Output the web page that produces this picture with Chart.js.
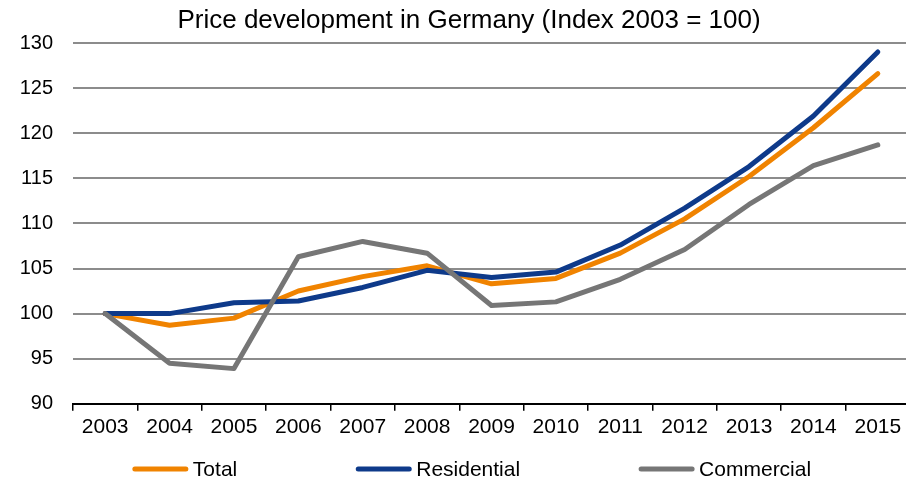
<html><head><meta charset="utf-8">
<script src="https://cdn.jsdelivr.net/npm/chart.js@4.4.0/dist/chart.umd.min.js"></script>
<style>
 body { margin:0; background:#fff; }
 #wrap { width:906px; height:481px; overflow:hidden; position:relative; }
 #box { width:912px; height:481px; position:absolute; left:0; top:0; }
</style>
</head>
<body>
<div id="wrap"><div id="box"><canvas id="myChart"></canvas></div></div>
<script>
var years = ['2003','2004','2005','2006','2007','2008','2009','2010','2011','2012','2013','2014','2015'];
var total = [100, 98.7, 99.5, 102.5, 104.1, 105.3, 103.3, 103.9, 106.7, 110.5, 115.2, 120.6, 126.6];
var residential = [100, 100, 101.2, 101.4, 102.9, 104.8, 104.0, 104.6, 107.6, 111.7, 116.3, 121.9, 129.0];
var commercial = [100, 94.5, 93.9, 106.3, 108.0, 106.7, 100.9, 101.3, 103.8, 107.1, 112.1, 116.4, 118.7];
var yMin = 90, yMax = 130, yStep = 5;
var title = 'Price development in Germany (Index 2003 = 100)';

var font = 'Liberation Sans, Arial, sans-serif';

function line(label, data, color, order) {
  return {
    label: label, data: data, borderColor: color, backgroundColor: color,
    borderWidth: 5, borderCapStyle: 'round', borderJoinStyle: 'round',
    pointRadius: 0, tension: 0, order: order
  };
}

// Excel-style title and legend: title centred a bit left of the plot,
// legend items with wide gaps and the line sample right next to the text
var excelText = {
  id: 'excelText',
  afterDraw: function (chart) {
    var c = chart.ctx, sets = chart.data.datasets;
    c.save();
    c.fillStyle = '#000'; c.textBaseline = 'middle';
    c.font = '26px ' + font; c.textAlign = 'center';
    c.fillText(title, 469, 21);

    var lineW = 55, gapText = 5, gap = 119, y = 469;
    c.font = '21px ' + font; c.textAlign = 'left';
    var widths = sets.map(function (d) { return lineW + gapText + c.measureText(d.label).width; });
    var full = widths.reduce(function (a, b) { return a + b; }, 0) + gap * (sets.length - 1);
    var x = 472 - full / 2;
    sets.forEach(function (d, i) {
      c.strokeStyle = d.borderColor; c.lineWidth = 5; c.lineCap = 'round';
      c.beginPath(); c.moveTo(x + 2, y); c.lineTo(x + lineW - 2, y); c.stroke();
      c.fillText(d.label, x + lineW + gapText, y + 1);
      x += widths[i] + gap;
    });
    c.restore();
  }
};

var ctx = document.getElementById('myChart');
var myChart = new Chart(ctx, {
  type: 'line',
  data: {
    labels: years,
    datasets: [
      line('Total', total, '#f08300', 2),
      line('Residential', residential, '#0e3a8a', 1),
      line('Commercial', commercial, '#767676', 0)
    ]
  },
  options: {
    responsive: true, maintainAspectRatio: false, animation: false,
    layout: { padding: { left: 0, right: 2, top: 43, bottom: 37 } },
    plugins: {
      title: { display: false },
      legend: { display: false },
      tooltip: { enabled: false }
    },
    scales: {
      x: {
        offset: true,
        grid: { offset: true, drawOnChartArea: false, drawTicks: true, tickLength: 7, color: '#000', lineWidth: 1.5 },
        border: { display: true, color: '#000', width: 2 },
        ticks: { color: '#000', font: { family: font, size: 21 }, padding: 4, maxRotation: 0, autoSkip: false }
      },
      y: {
        min: yMin, max: yMax,
        afterFit: function (s) { s.width = 73; },
        grid: {
          drawTicks: false, lineWidth: 2,
          color: function (c) { return c.tick && c.tick.value === yMin ? 'rgba(0,0,0,0)' : '#8c8c8c'; }
        },
        border: { display: false },
        ticks: { stepSize: yStep, color: '#000', font: { family: font, size: 20 }, padding: 20 }
      }
    }
  },
  plugins: [excelText]
});
</script>
</body></html>
